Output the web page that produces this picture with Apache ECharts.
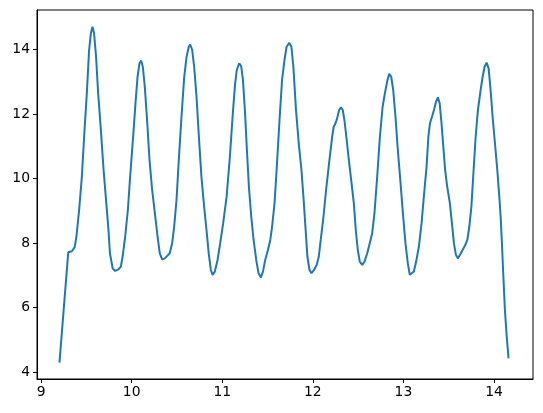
<!DOCTYPE html>
<html>
<head>
<meta charset="utf-8">
<script src="https://cdn.jsdelivr.net/npm/echarts@6/dist/echarts.min.js"></script>
<style>
html,body{margin:0;padding:0;background:#fff;}
#chart{width:543px;height:413px;}
</style>
</head>
<body>
<div id="chart"></div>
<script>
const xValues = [
9.203,9.30,9.34,9.37,9.39,9.42,9.45,9.475,9.505,9.53,9.55,9.567,9.585,9.607,9.63,9.66,9.69,9.72,9.744,9.76,9.79,9.817,9.855,9.88,9.90,9.928,9.958,9.983,10.02,10.045,10.065,10.087,10.105,10.123,10.145,10.17,10.197,10.226,10.256,10.286,10.31,10.336,10.366,10.39,10.42,10.447,10.469,10.495,10.52,10.55,10.58,10.606,10.63,10.646,10.668,10.69,10.716,10.742,10.77,10.80,10.826,10.85,10.874,10.893,10.918,10.948,10.977,11.01,11.048,11.084,11.114,11.14,11.16,11.187,11.209,11.228,11.25,11.272,11.294,11.32,11.346,11.375,11.40,11.427,11.449,11.474,11.504,11.53,11.55,11.577,11.602,11.632,11.66,11.687,11.71,11.74,11.763,11.785,11.814,11.844,11.874,11.896,11.918,11.94,11.963,11.985,12.013,12.043,12.065,12.087,12.117,12.146,12.183,12.213,12.23,12.25,12.268,12.29,12.31,12.33,12.348,12.37,12.397,12.423,12.452,12.474,12.496,12.518,12.545,12.57,12.60,12.628,12.655,12.68,12.71,12.74,12.77,12.795,12.82,12.843,12.865,12.887,12.912,12.938,12.968,12.997,13.022,13.048,13.07,13.09,13.115,13.14,13.17,13.20,13.225,13.255,13.275,13.293,13.315,13.337,13.36,13.38,13.40,13.42,13.44,13.46,13.483,13.512,13.535,13.557,13.579,13.60,13.624,13.653,13.683,13.705,13.727,13.75,13.772,13.797,13.822,13.852,13.874,13.896,13.918,13.94,13.962,13.984,14.01,14.036,14.058,14.073,14.087,14.103,14.12,14.14,14.16
];
const yValues = [
4.30,7.72,7.75,7.87,8.20,9.03,10.06,11.30,12.65,13.99,14.51,14.71,14.51,13.78,12.65,11.51,10.27,9.24,8.41,7.69,7.22,7.14,7.19,7.27,7.58,8.20,9.03,10.06,11.45,12.45,13.16,13.58,13.66,13.47,12.85,11.82,10.58,9.65,8.93,8.20,7.69,7.50,7.53,7.60,7.69,8.00,8.51,9.34,10.58,11.92,13.16,13.78,14.09,14.16,13.99,13.47,12.54,11.30,10.06,9.13,8.41,7.69,7.17,7.02,7.12,7.48,8.00,8.62,9.44,10.68,11.92,12.90,13.37,13.58,13.49,13.06,12.13,10.89,9.75,8.82,8.10,7.48,7.07,6.94,7.12,7.48,7.79,8.10,8.51,9.24,10.37,11.82,13.06,13.68,14.09,14.21,14.09,13.47,12.13,11.10,10.27,9.44,8.51,7.58,7.17,7.07,7.17,7.33,7.58,8.10,8.82,9.65,10.58,11.30,11.61,11.72,11.87,12.13,12.21,12.13,11.82,11.30,10.58,9.96,9.24,8.41,7.79,7.43,7.33,7.43,7.69,8.00,8.31,8.93,10.06,11.30,12.23,12.65,13.01,13.25,13.16,12.75,11.92,10.89,9.86,8.82,8.00,7.38,7.02,6.96,7.12,7.43,7.89,8.62,9.44,10.37,11.30,11.72,11.92,12.13,12.39,12.52,12.34,11.72,10.99,10.27,9.75,9.24,8.62,8.00,7.64,7.53,7.64,7.79,7.95,8.10,8.51,9.13,10.17,11.30,12.13,12.75,13.16,13.47,13.60,13.42,12.75,11.92,11.10,10.27,9.44,8.82,8.00,6.96,5.93,5.10,4.43
];
const xTicks = [9, 10, 11, 12, 13, 14];
const yTicks = [4, 6, 8, 10, 12, 14];

const points = xValues.map((x, i) => [x, yValues[i]]);
const chart = echarts.init(document.getElementById('chart'), null, {renderer: 'canvas'});
const labelStyle = {color: '#000', fontFamily: 'DejaVu Sans', fontSize: 13.9};
chart.setOption({
  animation: false,
  backgroundColor: '#fff',
  grid: {left: 37, right: 10, top: 10, bottom: 34, show: true, borderColor: '#000', borderWidth: 1, backgroundColor: 'transparent'},
  xAxis: {
    type: 'value', min: 8.955, max: 14.43,
    axisLine: {show: true, onZero: false, lineStyle: {color: '#000', width: 1}},
    axisTick: {show: true, length: 4, customValues: xTicks, lineStyle: {color: '#000'}},
    axisLabel: Object.assign({customValues: xTicks, margin: 6}, labelStyle),
    splitLine: {show: false}
  },
  yAxis: {
    type: 'value', min: 3.79, max: 15.23,
    axisLine: {show: true, onZero: false, lineStyle: {color: '#000', width: 1}},
    axisTick: {show: true, length: 4, customValues: yTicks, lineStyle: {color: '#000'}},
    axisLabel: Object.assign({customValues: yTicks, margin: 7}, labelStyle),
    splitLine: {show: false}
  },
  series: [{
    type: 'line', data: points, showSymbol: false, smooth: false,
    lineStyle: {color: '#1f77b4', width: 2}, itemStyle: {color: '#1f77b4'}
  }]
});
</script>
</body>
</html>
